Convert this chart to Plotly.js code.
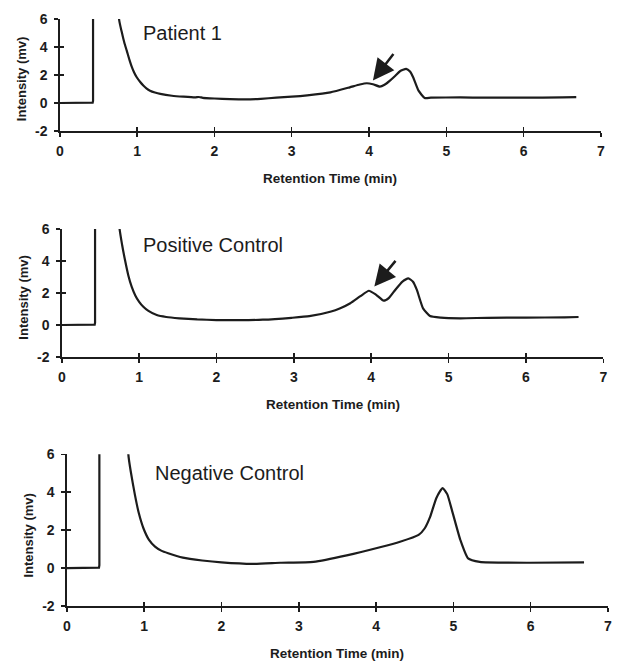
<!DOCTYPE html>
<html>
<head>
<meta charset="utf-8">
<script src="https://cdn.plot.ly/plotly-3.0.1.min.js"></script>
<style>html,body{margin:0;padding:0;background:#fff;}#chart{width:617px;height:662px;}</style>
</head>
<body>
<div id="chart"></div>
<script>
// Patient 1
const p1X = [0, 0.41, 0.425, 0.43, 0.43, 0.72, 0.766, 0.80, 0.835, 0.865, 0.90, 0.93, 0.96, 0.995, 1.04, 1.08, 1.12, 1.167, 1.23, 1.3, 1.45, 1.6, 1.75, 1.8, 1.85, 2.0, 2.2, 2.4, 2.6, 2.8, 3.0, 3.2, 3.5, 3.75, 3.88, 3.97, 4.05, 4.14, 4.2, 4.27, 4.34, 4.40, 4.48, 4.53, 4.57, 4.64, 4.72, 4.8, 5.18, 5.5, 6.0, 6.5, 6.68];
const p1Y = [0, 0, 0.02, 0.15, 40, 40, 6.0, 5.1, 4.3, 3.76, 3.1, 2.6, 2.2, 1.84, 1.5, 1.25, 1.05, 0.88, 0.75, 0.65, 0.52, 0.45, 0.4, 0.43, 0.37, 0.32, 0.28, 0.26, 0.3, 0.38, 0.45, 0.55, 0.76, 1.12, 1.32, 1.41, 1.34, 1.17, 1.3, 1.6, 1.95, 2.27, 2.44, 2.25, 1.84, 0.88, 0.36, 0.38, 0.4, 0.38, 0.38, 0.4, 0.42];
// Positive Control
const p2X = [0, 0.41, 0.425, 0.43, 0.43, 0.70, 0.74, 0.78, 0.817, 0.86, 0.903, 0.95, 1.0, 1.054, 1.12, 1.227, 1.35, 1.52, 1.75, 2.0, 2.3, 2.6, 2.97, 3.2, 3.47, 3.6, 3.73, 3.86, 3.97, 4.06, 4.16, 4.23, 4.31, 4.4, 4.48, 4.54, 4.59, 4.67, 4.76, 4.9, 5.15, 5.5, 6.0, 6.5, 6.68];
const p2Y = [0, 0, 0.02, 0.15, 40, 40, 6.3, 5.0, 4.06, 3.1, 2.4, 1.85, 1.45, 1.14, 0.88, 0.62, 0.5, 0.42, 0.35, 0.31, 0.3, 0.33, 0.45, 0.55, 0.83, 1.05, 1.36, 1.8, 2.14, 1.9, 1.52, 1.7, 2.19, 2.7, 2.92, 2.7, 2.19, 1.04, 0.56, 0.46, 0.42, 0.45, 0.46, 0.48, 0.5];
// Negative Control
const p3X = [0, 0.40, 0.415, 0.42, 0.42, 0.76, 0.795, 0.83, 0.88, 0.93, 0.99, 1.06, 1.14, 1.22, 1.31, 1.5, 1.75, 2.0, 2.4, 2.76, 3.19, 3.62, 4.05, 4.31, 4.55, 4.63, 4.70, 4.78, 4.86, 4.92, 4.98, 5.09, 5.19, 5.34, 5.99, 6.69];
const p3Y = [0, 0, 0.02, 0.15, 40, 40, 6.0, 5.0, 3.86, 2.9, 2.1, 1.5, 1.13, 0.92, 0.78, 0.55, 0.4, 0.3, 0.22, 0.28, 0.33, 0.67, 1.1, 1.39, 1.75, 2.1, 2.71, 3.7, 4.22, 3.9, 3.07, 1.48, 0.51, 0.33, 0.28, 0.3];

const panelNames = ["Patient 1", "Positive Control", "Negative Control"];
const xTickVals = [0, 1, 2, 3, 4, 5, 6, 7];
const xTickText = ["0", "1", "2", "3", "4", "5", "6", "7"];
const yTickVals = [-2, 0, 2, 4, 6];
const yTickText = ["-2", "0", "2", "4", "6"];
const xTitle = "Retention Time (min)";
const yTitle = "Intensity (mv)";

const W = 617, H = 662;
const SPIKE = 5; // first points (baseline + solvent front) drawn with straight segments
const panels = [
  {x: p1X, y: p1Y, px: [59.8, 601], py: [19, 131], label: [141, 33], arrow: {hx: 4.05, hy: 1.6, tx: 4.33, ty: 3.6}},
  {x: p2X, y: p2Y, px: [61.8, 603.3], py: [229, 357], label: [141, 245], arrow: {hx: 4.04, hy: 2.4, tx: 4.33, ty: 4.1}},
  {x: p3X, y: p3Y, px: [66.9, 608], py: [454.3, 606], label: [152.7, 473], arrow: null}
];

const ink = "#1c1c1c";
const data = [];
const layout = {
  width: W, height: H,
  margin: {l: 0, r: 0, t: 0, b: 0},
  paper_bgcolor: "#fff", plot_bgcolor: "#fff",
  showlegend: false,
  annotations: []
};
const fam = "Liberation Sans, Arial, sans-serif";
const tickFont = {family: fam, size: 14, color: ink, weight: 700};

panels.forEach((p, i) => {
  const n = i === 0 ? "" : String(i + 1);
  const m = String(i + 4);
  const xd = [p.px[0] / W, p.px[1] / W];
  const yd = [1 - p.py[1] / H, 1 - p.py[0] / H];
  data.push({
    x: p.x.slice(0, SPIKE), y: p.y.slice(0, SPIKE), type: "scatter", mode: "lines",
    xaxis: "x" + n, yaxis: "y" + n,
    line: {color: ink, width: 2.2}, hoverinfo: "skip"
  });
  data.push({
    x: p.x.slice(SPIKE - 1), y: p.y.slice(SPIKE - 1), type: "scatter", mode: "lines",
    xaxis: "x" + n, yaxis: "y" + n,
    line: {color: ink, width: 2.2, shape: "spline", smoothing: 0.5}, hoverinfo: "skip"
  });
  // empty trace so the overlay (inside tick) axes get drawn
  data.push({x: [], y: [], type: "scatter", mode: "lines", xaxis: "x" + m, yaxis: "y" + m, hoverinfo: "skip"});
  layout["xaxis" + n] = {
    domain: xd, anchor: "y" + n,
    range: [0, 7], tickvals: xTickVals, ticktext: xTickText, ticks: "outside", ticklen: 4, tickwidth: 1.5, tickcolor: ink,
    showline: true, linecolor: ink, linewidth: 1.5, showgrid: false, zeroline: false,
    tickfont: tickFont, ticklabelstandoff: 3, fixedrange: true
  };
  layout["yaxis" + n] = {
    domain: yd, anchor: "x" + n,
    range: [-2, 6], tickvals: yTickVals, ticktext: yTickText, ticks: "outside", ticklen: 4, tickwidth: 1.5, tickcolor: ink,
    showline: true, linecolor: ink, linewidth: 1.5, showgrid: false, zeroline: false,
    tickfont: tickFont, ticklabelstandoff: 4, fixedrange: true
  };
  layout["xaxis" + m] = {
    domain: xd, anchor: "y" + n, overlaying: "x" + n,
    range: [0, 7], tickvals: xTickVals, ticks: "inside", ticklen: 4, tickwidth: 1.5, tickcolor: ink,
    showline: false, showgrid: false, zeroline: false, showticklabels: false, fixedrange: true
  };
  layout["yaxis" + m] = {
    domain: yd, anchor: "x" + n, overlaying: "y" + n,
    range: [-2, 6], tickvals: yTickVals, ticks: "inside", ticklen: 4, tickwidth: 1.5, tickcolor: ink,
    showline: false, showgrid: false, zeroline: false, showticklabels: false, fixedrange: true
  };
  layout.annotations.push({
    xref: "paper", yref: "paper", x: p.label[0] / W, y: 1 - p.label[1] / H,
    xanchor: "left", yanchor: "middle", showarrow: false, text: panelNames[i],
    font: {family: fam, size: 20, color: ink}
  });
  layout.annotations.push({
    xref: "paper", yref: "paper", x: (p.px[0] + p.px[1]) / 2 / W, y: 1 - (p.py[1] + 47) / H,
    xanchor: "center", yanchor: "middle", showarrow: false, text: xTitle,
    font: {family: fam, size: 13.5, color: ink, weight: 700}
  });
  layout.annotations.push({
    xref: "paper", yref: "paper", x: (p.px[0] - 38) / W, y: 1 - (p.py[0] + 0.53 * (p.py[1] - p.py[0])) / H,
    xanchor: "center", yanchor: "middle", showarrow: false, text: yTitle, textangle: -90,
    font: {family: fam, size: 13, color: ink, weight: 700}
  });
  if (p.arrow) {
    layout.annotations.push({
      xref: "x" + n, yref: "y" + n, axref: "x" + n, ayref: "y" + n,
      x: p.arrow.hx, y: p.arrow.hy, ax: p.arrow.tx, ay: p.arrow.ty,
      showarrow: true, arrowhead: 2, arrowsize: 1.7, arrowwidth: 2.5, arrowcolor: ink, text: ""
    });
  }
});

Plotly.newPlot("chart", data, layout, {staticPlot: true, displayModeBar: false});
</script>
</body>
</html>
